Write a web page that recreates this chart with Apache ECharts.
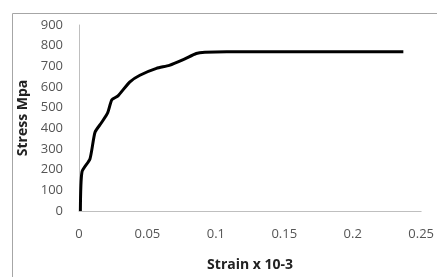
<!DOCTYPE html>
<html>
<head>
<meta charset="utf-8">
<script src="https://cdn.jsdelivr.net/npm/echarts@6/dist/echarts.min.js"></script>
<style>
    html, body { margin: 0; padding: 0; background: #fff; }
    #main { width: 437px; height: 277px; }
</style>
</head>
<body>
<div id="main"></div>
<script>
/** 应力应变曲线 */
var strain = [0.001, 0.0022, 0.008, 0.0117, 0.0165, 0.021, 0.024, 0.0285, 0.037, 0.0445,
    0.0566, 0.066, 0.077, 0.0857, 0.092, 0.108, 0.15, 0.2, 0.237];
var stress = [0, 190, 252, 381, 428, 476, 538, 557, 624, 657,
    690, 705, 735, 762, 768, 771, 770, 770, 770];
var xTicks = [0, 0.05, 0.1, 0.15, 0.2, 0.25];

var points = [];
for (let i = 0; i < strain.length; i++) {
    points.push([strain[i], stress[i]]);
}

var chart = echarts.init(document.getElementById('main'));
chart.setOption({
    animation: false,
    backgroundColor: '#fff',
    graphic: [{
        type: 'rect',
        shape: { x: 12.5, y: 13.5, width: 440, height: 300 },
        style: { fill: 'none', stroke: '#a6a6a6', lineWidth: 1 }
    }],
    grid: {
        left: 79,
        top: 25,
        right: 15,
        bottom: 64
    },
    xAxis: {
        type: 'value',
        min: 0,
        max: 0.25,
        interval: 0.05,
        name: 'Strain x 10-3',
        nameLocation: 'middle',
        nameGap: 47,
        nameTextStyle: { fontFamily: 'Open Sans', fontSize: 14, fontWeight: 'bold', color: '#222' },
        axisLine: { lineStyle: { color: '#bfbfbf', width: 1 } },
        axisTick: { show: false },
        splitLine: { show: false },
        axisLabel: {
            margin: 17,
            fontFamily: 'Open Sans',
            fontSize: 13,
            color: '#555',
            formatter: function (v) {
                return xTicks.indexOf(v) >= 0 ? String(v) : '';
            }
        }
    },
    yAxis: {
        type: 'value',
        min: 0,
        max: 900,
        interval: 100,
        name: 'Stress Mpa',
        nameLocation: 'middle',
        nameGap: 46,
        nameTextStyle: { fontFamily: 'Open Sans', fontSize: 14, fontWeight: 'bold', color: '#222' },
        axisLine: { show: true, lineStyle: { color: '#bfbfbf', width: 1 } },
        axisTick: { show: false },
        splitLine: { show: false },
        axisLabel: {
            margin: 16,
            fontFamily: 'Open Sans',
            fontSize: 13,
            color: '#555'
        }
    },
    series: [{
        type: 'line',
        data: points,
        showSymbol: false,
        smooth: 0.2,
        lineStyle: { color: '#000', width: 3 }
    }]
});
</script>
</body>
</html>
